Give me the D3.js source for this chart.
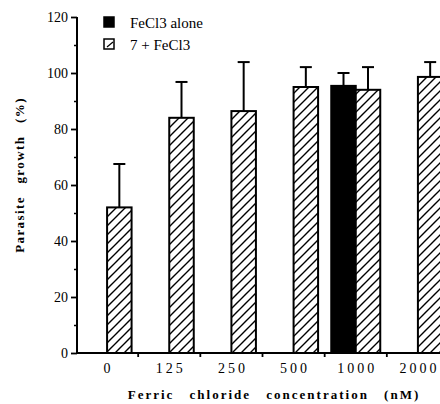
<!DOCTYPE html>
<html><head><meta charset="utf-8">
<script src="https://cdn.jsdelivr.net/npm/d3@7"></script>
<style>body{margin:0;background:#fff}svg{display:block}
svg text{font-family:"Liberation Serif","DejaVu Serif",serif;}
</style>
</head><body>
<svg id="c" width="440" height="404"></svg>
<script>
const categories = ["0","125","250","500","1000","2000"];
const seriesNames = ["FeCl3 alone","7 + FeCl3"];
const aloneMean = [null,null,null,null,95.4,null];
const aloneSD   = [null,null,null,null,4.6,null];
const comboMean = [52,84,86.4,95,94,98.6];
const comboSD   = [15.5,12.8,17.5,7.1,8.1,5.3];
const yTicks = [0,20,40,60,80,100,120];

const svg = d3.select("#c");
const font = '"Liberation Serif","DejaVu Serif",serif';
const y = d3.scaleLinear().domain([0,120]).range([353,17]);
const x = d3.scaleBand().domain(categories).range([76,449]).padding(0);
const step = x.step();
const inner = d3.scaleBand().domain(["alone","combo"]).range([step/2-24.5, step/2+24.5]).padding(0);

const defs = svg.append("defs");
const pat = defs.append("pattern").attr("id","hatch").attr("patternUnits","userSpaceOnUse")
  .attr("width",9).attr("height",9);
pat.append("rect").attr("width",9).attr("height",9).attr("fill","#fff");
pat.append("path").attr("d","M-1,10 L10,-1 M-1,1 L1,-1 M8,10 L10,8")
  .attr("stroke","#000").attr("stroke-width",1.4);

// bars
const g = svg.append("g");
categories.forEach((c,i)=>{
  const rows = [["alone",aloneMean[i],aloneSD[i]],["combo",comboMean[i],comboSD[i]]];
  rows.forEach(([k,m,s])=>{
    if(m==null) return;
    const bx = x(c)+inner(k), bw = inner.bandwidth();
    const cx = bx + bw/2;
    g.append("line").attr("x1",cx).attr("x2",cx).attr("y1",y(m)).attr("y2",y(m+s))
      .attr("stroke","#000").attr("stroke-width",2);
    g.append("line").attr("x1",cx-6).attr("x2",cx+6).attr("y1",y(m+s)).attr("y2",y(m+s))
      .attr("stroke","#000").attr("stroke-width",2);
    g.append("rect").attr("x",bx).attr("y",y(m)).attr("width",bw).attr("height",y(0)-y(m))
      .attr("fill",k==="alone"?"#000":"url(#hatch)").attr("stroke","#000").attr("stroke-width",2);
  });
});

// y axis
const yAxis = svg.append("g").attr("transform","translate(77,0)")
  .call(d3.axisLeft(y).tickValues(yTicks).tickSize(6).tickPadding(3).tickFormat(d3.format("d")));
yAxis.attr("font-family",null);
yAxis.select(".domain").attr("stroke-width",2).attr("d","M0,"+y(120)+"V"+y(0));
yAxis.selectAll(".tick line").attr("stroke-width",1.8);
yAxis.selectAll("text").style("font-family",font).style("font-size","14px").attr("fill","#000");
const minor = svg.append("g").attr("transform","translate(77,0)")
  .call(d3.axisLeft(y).tickValues(d3.range(10,120,20)).tickSize(3).tickFormat(""));
minor.select(".domain").remove();
minor.selectAll(".tick line").attr("stroke-width",1.5);

// x axis
svg.append("line").attr("x1",76).attr("x2",440).attr("y1",y(0)).attr("y2",y(0))
  .attr("stroke","#000").attr("stroke-width",2);
const sep = categories.slice(1).map(c=>x(c));
svg.append("g").selectAll("line").data(sep).join("line")
  .attr("x1",d=>d).attr("x2",d=>d).attr("y1",y(0)).attr("y2",y(0)+4)
  .attr("stroke","#000").attr("stroke-width",1.8);
svg.append("g").selectAll("text").data(categories).join("text")
  .attr("x",d=>x(d)+step/2+1.5).attr("y",373).attr("text-anchor","middle")
  .style("font-family",font).style("font-size","14px").attr("letter-spacing","3px").text(d=>d);

// titles
svg.append("text").attr("x",274).attr("y",399).attr("text-anchor","middle")
  .style("font-family",font).style("font-size","13px").attr("font-weight","bold")
  .attr("letter-spacing","2px").attr("word-spacing","10px")
  .text("Ferric chloride concentration (nM)");
svg.append("text").attr("transform","translate(24,175) rotate(-90)").attr("text-anchor","middle")
  .style("font-family",font).style("font-size","13px").attr("font-weight","bold")
  .attr("letter-spacing","1.4px").attr("word-spacing","8px")
  .text("Parasite growth (%)");

// legend
const leg = svg.append("g");
seriesNames.forEach((n,i)=>{
  const yy = 17 + i*22;
  leg.append("rect").attr("x",104).attr("y",yy).attr("width",10).attr("height",10)
    .attr("fill",i===0?"#000":"#fff").attr("stroke","#000").attr("stroke-width",1.5);
  if(i===1) leg.append("line").attr("x1",107).attr("y1",yy+8).attr("x2",113).attr("y2",yy+3)
    .attr("stroke","#000").attr("stroke-width",1.2);
  leg.append("text").attr("x",130).attr("y",yy+11).style("font-family",font).style("font-size","15px").text(n);
});
</script>
</body></html>
